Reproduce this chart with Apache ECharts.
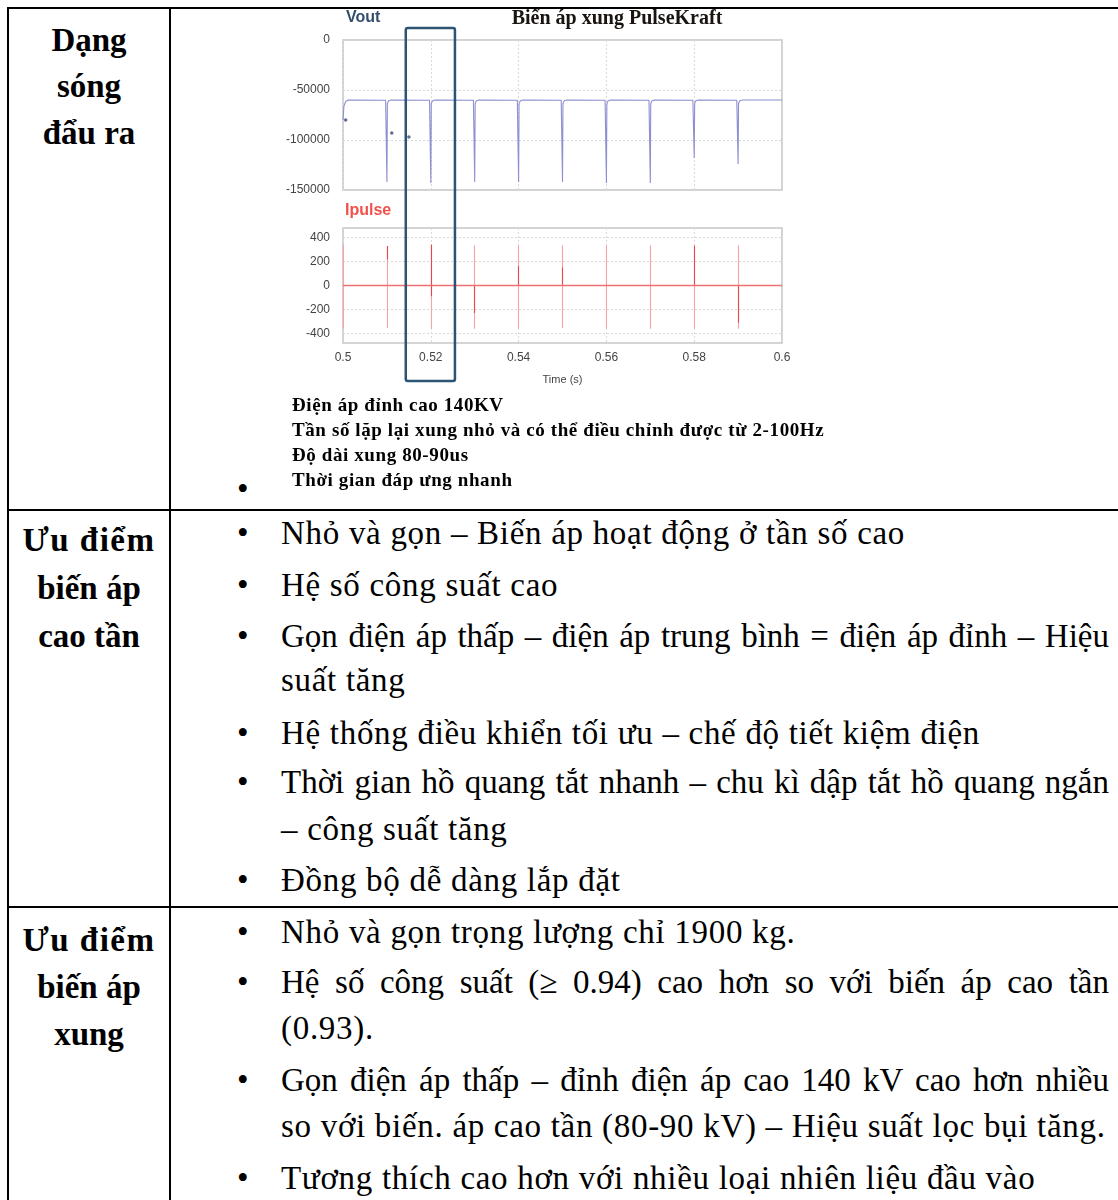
<!DOCTYPE html>
<html><head><meta charset="utf-8">
<script src="https://cdn.jsdelivr.net/npm/echarts@6/dist/echarts.min.js"></script>
<style>
html,body{margin:0;padding:0;background:#fff;width:1118px;height:1200px;overflow:hidden;}
#page{position:relative;width:1118px;height:1200px;font-family:"Liberation Serif","Times New Roman",serif;color:#000;}
.hl{position:absolute;background:#000;height:2px;left:7px;width:1111px;}
.vl{position:absolute;background:#000;width:2px;top:7px;height:1193px;}
.head{position:absolute;left:9px;width:160px;text-align:center;font-weight:bold;font-size:33px;line-height:46px;height:46px;white-space:nowrap;}
.bul{position:absolute;left:237px;font-size:33px;line-height:46px;height:46px;}
.ln{position:absolute;left:281px;width:828px;font-size:33px;letter-spacing:0.7px;line-height:46px;height:46px;white-space:nowrap;}
.j{text-align:justify;text-align-last:justify;letter-spacing:0;}
.cap{position:absolute;left:292px;font-weight:bold;font-size:19px;letter-spacing:0.6px;line-height:25px;height:25px;white-space:nowrap;}
#chart{position:absolute;left:283px;top:8px;width:540px;height:382px;}
</style></head>
<body><div id="page">
<div class="hl" style="top:7px"></div>
<div class="hl" style="top:509px"></div>
<div class="hl" style="top:906px"></div>
<div class="vl" style="left:7px"></div>
<div class="vl" style="left:169px"></div>

<div class="head" style="top:17px">Dạng</div>
<div class="head" style="top:63px">sóng</div>
<div class="head" style="top:110px">đẩu ra</div>

<div id="chart"></div>
<div class="cap" style="top:392px">Điện áp đỉnh cao 140KV</div>
<div class="cap" style="top:417px">Tần số lặp lại xung nhỏ và có thể điều chỉnh được từ 2-100Hz</div>
<div class="cap" style="top:442px">Độ dài xung 80-90us</div>
<div class="cap" style="top:467px">Thời gian đáp ưng nhanh</div>
<div class="bul" style="top:466px">•</div>

<div class="head" style="top:517px;letter-spacing:1.5px">Ưu điểm</div>
<div class="head" style="top:565px">biến áp</div>
<div class="head" style="top:613px">cao tần</div>

<div class="bul" style="top:510px">•</div><div class="ln" style="top:510px">Nhỏ và gọn – Biến áp hoạt động ở tần số cao</div>
<div class="bul" style="top:562px">•</div><div class="ln" style="top:562px">Hệ số công suất cao</div>
<div class="bul" style="top:613px">•</div><div class="ln j" style="top:613px">Gọn điện áp thấp – điện áp trung bình = điện áp đỉnh – Hiệu</div>
<div class="ln" style="top:657px">suất tăng</div>
<div class="bul" style="top:710px">•</div><div class="ln" style="top:710px">Hệ thống điều khiển tối ưu – chế độ tiết kiệm điện</div>
<div class="bul" style="top:759px">•</div><div class="ln j" style="top:759px">Thời gian hồ quang tắt nhanh – chu kì dập tắt hồ quang ngắn</div>
<div class="ln" style="top:806px">– công suất tăng</div>
<div class="bul" style="top:857px">•</div><div class="ln" style="top:857px">Đồng bộ dễ dàng lắp đặt</div>

<div class="head" style="top:917px;letter-spacing:1.5px">Ưu điểm</div>
<div class="head" style="top:964px">biến áp</div>
<div class="head" style="top:1011px">xung</div>

<div class="bul" style="top:909px">•</div><div class="ln" style="top:909px">Nhỏ và gọn trọng lượng chỉ 1900 kg.</div>
<div class="bul" style="top:959px">•</div><div class="ln j" style="top:959px">Hệ số công suất (≥ 0.94) cao hơn so với biến áp cao tần</div>
<div class="ln" style="top:1005px">(0.93).</div>
<div class="bul" style="top:1057px">•</div><div class="ln j" style="top:1057px">Gọn điện áp thấp – đỉnh điện áp cao 140 kV cao hơn nhiều</div>
<div class="ln" style="top:1103px">so với biến. áp cao tần (80-90 kV) – Hiệu suất lọc bụi tăng.</div>
<div class="bul" style="top:1155px">•</div><div class="ln" style="top:1155px">Tương thích cao hơn với nhiều loại nhiên liệu đầu vào</div>
</div>

<script>
// ---- data ----
const xTicks = [0.5, 0.52, 0.54, 0.56, 0.58, 0.6];
const voutTicks = [0, -50000, -100000, -150000];
const ipulseTicks = [400, 200, 0, -200, -400];

const voutTrace = [
  [0.5000,-80000],[0.5002,-66000],[0.5006,-61500],[0.5012,-60000],
  [0.5097,-60200],[0.5099,-62000],[0.5100,-142000],[0.5101,-63500],[0.5104,-60800],[0.5110,-60000],
  [0.5197,-60200],[0.5199,-62000],[0.5200,-143000],[0.5201,-63500],[0.5204,-60800],[0.5210,-60000],
  [0.5297,-60200],[0.5299,-62000],[0.5300,-142000],[0.5301,-63500],[0.5304,-60800],[0.5310,-60000],
  [0.5397,-60200],[0.5399,-62000],[0.5400,-142000],[0.5401,-63500],[0.5404,-60800],[0.5410,-60000],
  [0.5497,-60200],[0.5499,-62000],[0.5500,-142000],[0.5501,-63500],[0.5504,-60800],[0.5510,-60000],
  [0.5597,-60200],[0.5599,-62000],[0.5600,-143000],[0.5601,-63500],[0.5604,-60800],[0.5610,-60000],
  [0.5697,-60200],[0.5699,-62000],[0.5700,-143000],[0.5701,-63500],[0.5704,-60800],[0.5710,-60000],
  [0.5797,-60200],[0.5799,-62000],[0.5800,-118000],[0.5801,-63500],[0.5804,-60800],[0.5810,-60000],
  [0.5897,-60200],[0.5899,-62000],[0.5900,-124000],[0.5901,-63500],[0.5904,-60800],[0.5910,-60000],
  [0.6000,-60000]
];
const voutDots = [[0.5006,-80000],[0.5111,-93000],[0.5150,-97000]];

const ipulseBase = [[0.5,0],[0.6,0]];
const ipulseSpikes = [
  [[0.50,340],[0.50,-360]], [[0.51,330],[0.51,-355]], [[0.52,340],[0.52,-360]],
  [[0.53,335],[0.53,-360]], [[0.54,335],[0.54,-360]], [[0.55,335],[0.55,-355]],
  [[0.56,335],[0.56,-360]], [[0.57,335],[0.57,-360]], [[0.58,340],[0.58,-360]],
  [[0.59,335],[0.59,-360]]
];
const ipulseStrong = [
  [[0.51,330],[0.51,220]], [[0.52,340],[0.52,-90]], [[0.53,0],[0.53,-230]],
  [[0.54,160],[0.54,0]], [[0.55,150],[0.55,0]], [[0.58,330],[0.58,0]], [[0.59,0],[0.59,-310]]
];
const highlightRange = [0.5143, 0.5255];

const chart = echarts.init(document.getElementById('chart'), null, {renderer:'canvas'});
const sans = 'Liberation Sans, Arial, sans-serif';
const gridLine = {show:true, lineStyle:{color:'#d9d9d9', type:[2,2], width:1}};
function xAxisOf(extra){
  return Object.assign({
    type:'value', min:xTicks[0], max:xTicks[xTicks.length-1], interval:0.02,
    axisLine:{show:false, onZero:false}, axisTick:{show:false}, splitLine:gridLine
  }, extra);
}
function segs(list){
  return list.map(s => ({coords:s}));
}
chart.setOption({
  animation:false,
  grid:[
    {left:60, top:32, width:439, height:150, show:true, borderColor:'#c4c4c4', borderWidth:1.5, backgroundColor:'#fff'},
    {left:60, top:220, width:439, height:115, show:true, borderColor:'#c4c4c4', borderWidth:1.5, backgroundColor:'#fff'}
  ],
  xAxis:[
    xAxisOf({gridIndex:0, axisLabel:{show:false}}),
    xAxisOf({gridIndex:1, name:'Time (s)', nameLocation:'middle', nameGap:31,
      nameTextStyle:{fontFamily:sans, fontSize:11, color:'#444'},
      axisLabel:{show:true, margin:9, fontFamily:sans, fontSize:12, color:'#444',
        formatter:v=>String(Math.round(v*100)/100)}})
  ],
  yAxis:[
    {gridIndex:0, type:'value', min:voutTicks[3], max:voutTicks[0], interval:50000,
     axisLine:{show:false}, axisTick:{show:false}, splitLine:gridLine,
     axisLabel:{margin:13, fontFamily:sans, fontSize:12, color:'#444', formatter:v=>String(v)}},
    {gridIndex:1, type:'value', min:-480, max:480,
     axisLine:{show:false}, axisTick:{show:false}, splitLine:gridLine,
     axisLabel:{margin:13, fontFamily:sans, fontSize:12, color:'#444', showMinLabel:false, showMaxLabel:false,
       formatter:v=>ipulseTicks.indexOf(v)>=0?String(v):''}}
  ],
  series:[
    {type:'line', xAxisIndex:0, yAxisIndex:0, data:voutTrace, symbol:'none',
     lineStyle:{color:'#8d8fd0', width:1.1}},
    {type:'scatter', xAxisIndex:0, yAxisIndex:0, data:voutDots, symbolSize:3.5,
     itemStyle:{color:'#3a4a78'}},
    {type:'line', xAxisIndex:1, yAxisIndex:1, data:ipulseBase, symbol:'none',
     lineStyle:{color:'#f26f6f', width:1.3}},
    {type:'lines', coordinateSystem:'cartesian2d', xAxisIndex:1, yAxisIndex:1, data:segs(ipulseSpikes),
     lineStyle:{color:'#f6a3a3', width:1.1, opacity:1}},
    {type:'lines', coordinateSystem:'cartesian2d', xAxisIndex:1, yAxisIndex:1, data:segs(ipulseStrong),
     lineStyle:{color:'#e8464b', width:1.1, opacity:1}}
  ]
});

const x0 = chart.convertToPixel({xAxisIndex:1}, highlightRange[0]);
const x1 = chart.convertToPixel({xAxisIndex:1}, highlightRange[1]);
chart.setOption({
  graphic:[
    {type:'text', x:334, y:11, style:{text:'Biến áp xung PulseKraft', align:'center', verticalAlign:'middle',
      fontFamily:'Liberation Serif', fontWeight:'bold', fontSize:20, fill:'#1a1410'}},
    {type:'text', x:63, y:10, style:{text:'Vout', align:'left', verticalAlign:'middle',
      fontFamily:'Liberation Sans', fontWeight:'bold', fontSize:16, fill:'#344f6c'}},
    {type:'text', x:62, y:203, style:{text:'Ipulse', align:'left', verticalAlign:'middle',
      fontFamily:'Liberation Sans', fontWeight:'bold', fontSize:16, fill:'#f2514b'}},
    {type:'rect', shape:{x:x0, y:20, width:x1-x0, height:353, r:2}, z:100,
      style:{fill:'none', stroke:'#2d5472', lineWidth:2.5}}
  ]
});
</script>
</body></html>
